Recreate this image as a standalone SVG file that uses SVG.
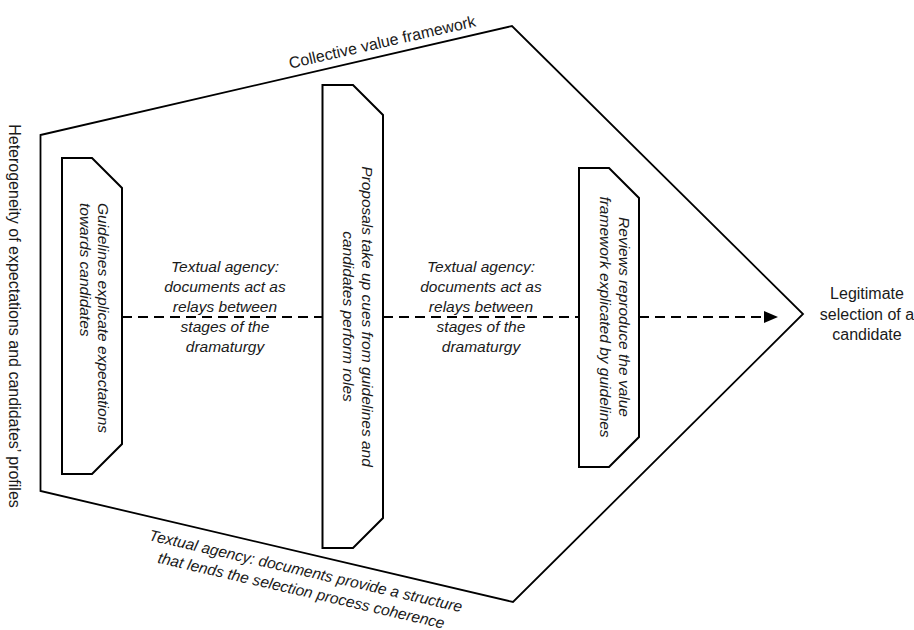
<svg xmlns="http://www.w3.org/2000/svg" width="914" height="630" viewBox="0 0 914 630">
  <style>
    .bg { fill: #ffffff; }
    .frame { fill: none; stroke: #000; stroke-width: 1.8; stroke-linejoin: miter; }
    .box { fill: #ffffff; stroke: #000; stroke-width: 2; stroke-linejoin: miter; }
    .conn { fill: none; stroke: #000; stroke-width: 2; stroke-dasharray: 10 6; }
    .up { font-family: "Liberation Sans", Arial, sans-serif; font-size: 16px; fill: #1a1a1a; }
    .it { font-family: "Liberation Sans", Arial, sans-serif; font-size: 15.5px; font-style: italic; fill: #1a1a1a; }
    .mid { text-anchor: middle; }
  </style>
  <defs>
    <marker id="arrow" markerUnits="userSpaceOnUse" markerWidth="14" markerHeight="12" refX="0" refY="6" orient="auto">
      <path d="M0,0 L14,6 L0,12 Z" fill="#000"/>
    </marker>
  </defs>

  <rect class="bg" x="0" y="0" width="914" height="630"/>

  <g id="frame">
    <polygon class="frame" points="40.5,135 512,26 803,314 513,602 40.5,491"/>
    <text class="up mid" transform="translate(383.4,47.5) rotate(-12.8)">Collective value framework</text>
    <text class="up mid" transform="translate(9,316) rotate(90)">Heterogeneity of expectations and candidates’ profiles</text>
    <g transform="translate(304.6,576.2) rotate(13)">
      <text class="it mid" x="0" y="0">Textual agency: documents provide a structure</text>
      <text class="it mid" x="0" y="20">that lends the selection process coherence</text>
    </g>
  </g>

  <g id="connectors">
    <path class="conn" d="M122,317 L322.5,317"/>
    <path class="conn" d="M383,317 L579,317"/>
    <path class="conn" d="M639,317 L764,317" marker-end="url(#arrow)"/>
    <g id="label-relay-1">
      <text class="it mid" x="225" y="272">Textual agency:</text>
      <text class="it mid" x="225" y="292">documents act as</text>
      <text class="it mid" x="225" y="312">relays between</text>
      <text class="it mid" x="225" y="332">stages of the</text>
      <text class="it mid" x="225" y="352">dramaturgy</text>
    </g>
    <g id="label-relay-2">
      <text class="it mid" x="481" y="272">Textual agency:</text>
      <text class="it mid" x="481" y="292">documents act as</text>
      <text class="it mid" x="481" y="312">relays between</text>
      <text class="it mid" x="481" y="332">stages of the</text>
      <text class="it mid" x="481" y="352">dramaturgy</text>
    </g>
  </g>

  <g id="guidelines">
    <polygon class="box" points="62,158 92,158 122,188 122,444 92,474 62,474"/>
    <text class="it" transform="translate(98,203) rotate(90)">Guidelines explicate expectations</text>
    <text class="it" transform="translate(79.5,203) rotate(90)">towards candidates</text>
  </g>

  <g id="proposals">
    <polygon class="box" points="322.5,85 353,85 383,115 383,518 353,548 322.5,548"/>
    <text class="it mid" transform="translate(362,316.5) rotate(90)">Proposals take up cues from guidelines and</text>
    <text class="it mid" transform="translate(343,316.5) rotate(90)">candidates perform roles</text>
  </g>

  <g id="reviews">
    <polygon class="box" points="579,168 609,168 639,198 639,437 609,467 579,467"/>
    <text class="it mid" transform="translate(619,317) rotate(90)">Reviews reproduce the value</text>
    <text class="it mid" transform="translate(599.5,317) rotate(90)">framework explicated by guidelines</text>
  </g>

  <g id="outcome">
    <text class="up mid" x="867" y="299">Legitimate</text>
    <text class="up mid" x="867" y="319.5">selection of a</text>
    <text class="up mid" x="867" y="340">candidate</text>
  </g>
</svg>
